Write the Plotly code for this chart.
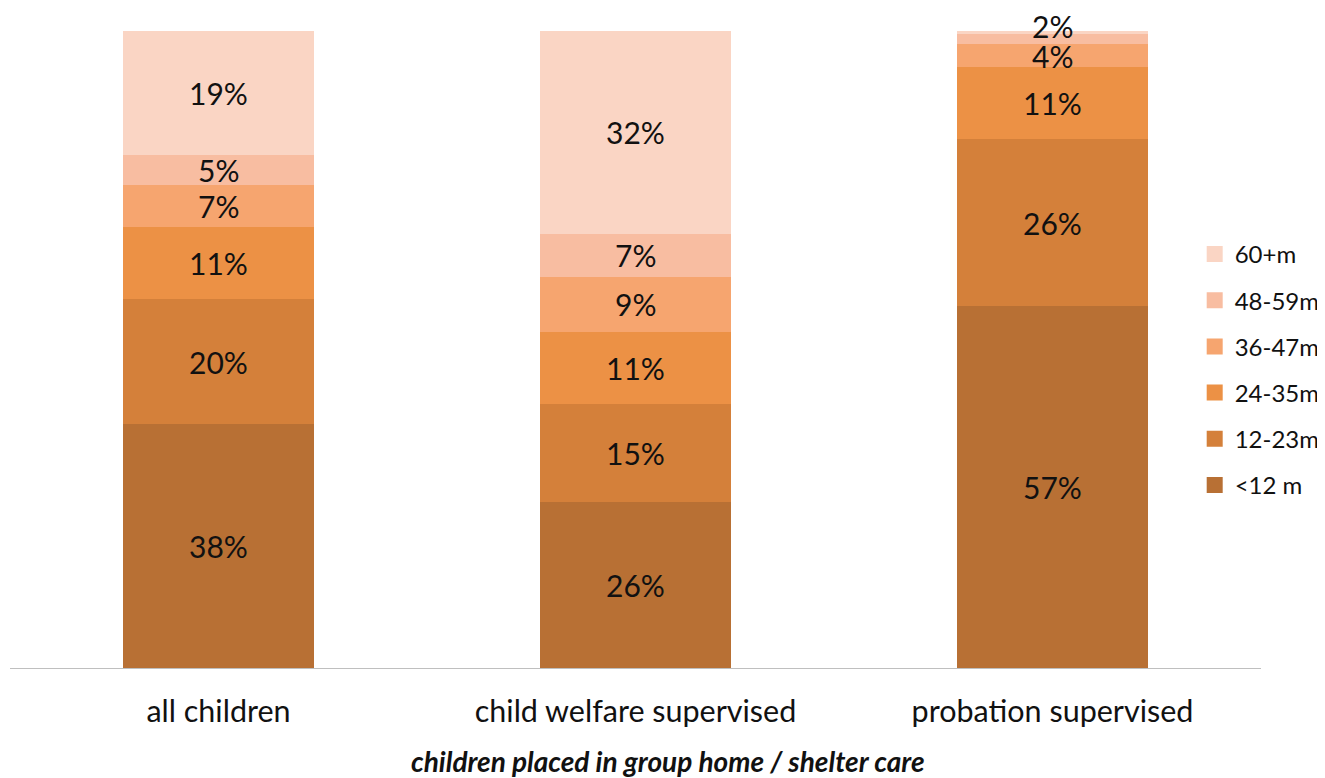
import plotly.graph_objects as go

categories = ["all children", "child welfare supervised", "probation supervised"]
bands = ["<12 m", "12-23m", "24-35m", "36-47m", "48-59m", "60+m"]
values = {
    "<12 m":  [38.3, 26.1, 56.8],
    "12-23m": [19.6, 15.4, 26.2],
    "24-35m": [11.3, 11.3, 11.3],
    "36-47m": [6.6, 8.6, 3.6],
    "48-59m": [4.8, 6.8, 1.6],
    "60+m":   [19.4, 31.8, 0.5],
}
colors = {
    "<12 m": "#B87034",
    "12-23m": "#D4803A",
    "24-35m": "#EC9145",
    "36-47m": "#F6A56F",
    "48-59m": "#F8BDA1",
    "60+m": "#FAD5C4",
}
axis_title = "children placed in group home / shelter care"

FONT = "Lato"
fig = go.Figure()
for i, b in enumerate(bands):
    fig.add_trace(go.Bar(
        x=categories, y=values[b], name=b, legendgroup=b, showlegend=False,
        marker=dict(color=colors[b], line=dict(width=0)),
        hoverinfo="x+y+name",
    ))
    # legend entry with a larger square swatch
    fig.add_trace(go.Scatter(
        x=[None], y=[None], mode="markers", name=b, legendgroup=b,
        legendrank=len(bands) - i,
        marker=dict(symbol="square", size=16, color=colors[b]),
        hoverinfo="skip",
    ))

# data labels at the centre of each segment
label_shift = {("probation supervised", "48-59m"): 13}
cum = [0.0] * len(categories)
for b in bands:
    for i, c in enumerate(categories):
        v = values[b][i]
        mid = cum[i] + v / 2
        cum[i] += v
        if round(v) < 1:
            continue
        fig.add_annotation(
            x=c, y=mid, text=f"{round(v)}%", showarrow=False,
            yshift=label_shift.get((c, b), 0),
            font=dict(family=FONT, size=30, color="#111111"),
        )

fig.add_annotation(
    xref="paper", yref="paper", x=0.526, y=0, yshift=-93, yanchor="middle",
    text=f"<b><i>{axis_title}</i></b>", showarrow=False,
    font=dict(family=FONT, size=28, color="#111111"),
)

fig.update_layout(
    barmode="stack",
    bargap=0.542,
    width=1317, height=770,
    margin=dict(l=2, r=64, t=23, b=110, autoexpand=False),
    paper_bgcolor="white", plot_bgcolor="white",
    font=dict(family=FONT, color="#111111"),
    showlegend=True,
    legend=dict(
        x=0.947, xanchor="left", y=0.468, yanchor="middle",
        traceorder="grouped", tracegroupgap=12,
        font=dict(family=FONT, size=24, color="#111111"),
        bgcolor="rgba(0,0,0,0)",
    ),
    xaxis=dict(
        showline=True, linecolor="#BFBFBF", linewidth=1,
        ticks="outside", ticklen=16, tickcolor="rgba(0,0,0,0)",
        tickfont=dict(family=FONT, size=30.5, color="#111111"),
        showgrid=False, fixedrange=True,
    ),
    yaxis=dict(
        range=[0, 100], visible=False, showgrid=False, fixedrange=True,
    ),
)

fig.write_html("out.html")
